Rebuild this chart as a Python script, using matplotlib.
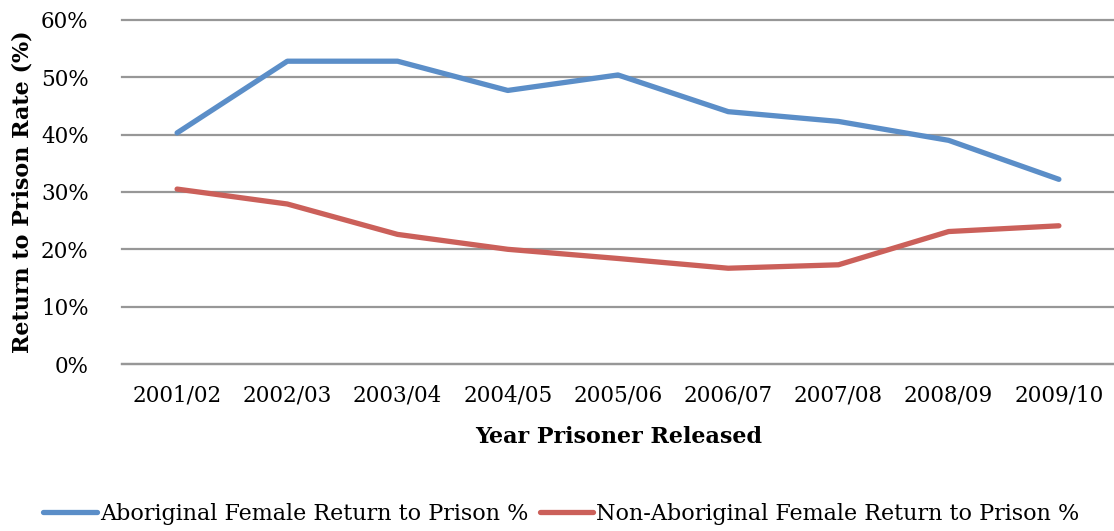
import matplotlib
matplotlib.use("Agg")
import matplotlib.pyplot as plt
from matplotlib.ticker import FuncFormatter

# data
years = ['2001/02', '2002/03', '2003/04', '2004/05', '2005/06',
         '2006/07', '2007/08', '2008/09', '2009/10']
aboriginal = [40.3, 52.8, 52.8, 47.7, 50.4, 44.0, 42.3, 39.0, 32.2]
non_aboriginal = [30.5, 27.9, 22.6, 20.0, 18.4, 16.7, 17.3, 23.1, 24.1]
series_labels = ['Aboriginal Female Return to Prison %',
                 'Non-Aboriginal Female Return to Prison %']

plt.rcParams['font.family'] = ['DejaVu Serif']

fig = plt.figure(figsize=(11.14, 5.31), dpi=100)
ax = fig.add_axes([0.1095, 0.3145, 0.8905, 0.648])

x = list(range(len(years)))
ax.plot(x, aboriginal, color='#5B8EC8', lw=3.8, solid_capstyle='round',
        label=series_labels[0])
ax.plot(x, non_aboriginal, color='#CB605A', lw=3.8, solid_capstyle='round',
        label=series_labels[1])

ax.set_xlim(-0.5, len(years) - 0.5)
ax.set_ylim(0, 60)
ax.set_yticks(range(0, 61, 10))
ax.yaxis.set_major_formatter(FuncFormatter(lambda v, p: '%d%%' % v))
ax.set_xticks(x)
ax.set_xticklabels(years)

ax.grid(axis='y', color='#979797', lw=1.6)
for gl in ax.get_ygridlines():
    gl.set_clip_on(False)
ax.set_axisbelow(True)
for s in ['top', 'right', 'left']:
    ax.spines[s].set_visible(False)
ax.spines['bottom'].set_color('#979797')
ax.spines['bottom'].set_linewidth(1.6)

ax.tick_params(axis='x', length=0, pad=15, labelsize=15.5)
ax.tick_params(axis='y', length=0, pad=24, labelsize=15.5)

ax.set_xlabel('Year Prisoner Released', fontsize=16, fontweight='bold')
ax.xaxis.set_label_coords(0.5005, -0.18)
ax.set_ylabel('Return to Prison Rate (%)', fontsize=16, fontweight='bold')
ax.yaxis.set_label_coords(-0.089, 0.5)

fig.legend(loc='center', bbox_to_anchor=(0.504, 0.032), ncol=2,
           frameon=False, fontsize=16, handlelength=2.4,
           handletextpad=0.15, columnspacing=0.5,
           borderpad=0, borderaxespad=0)

fig.savefig('out.png', dpi=100)
